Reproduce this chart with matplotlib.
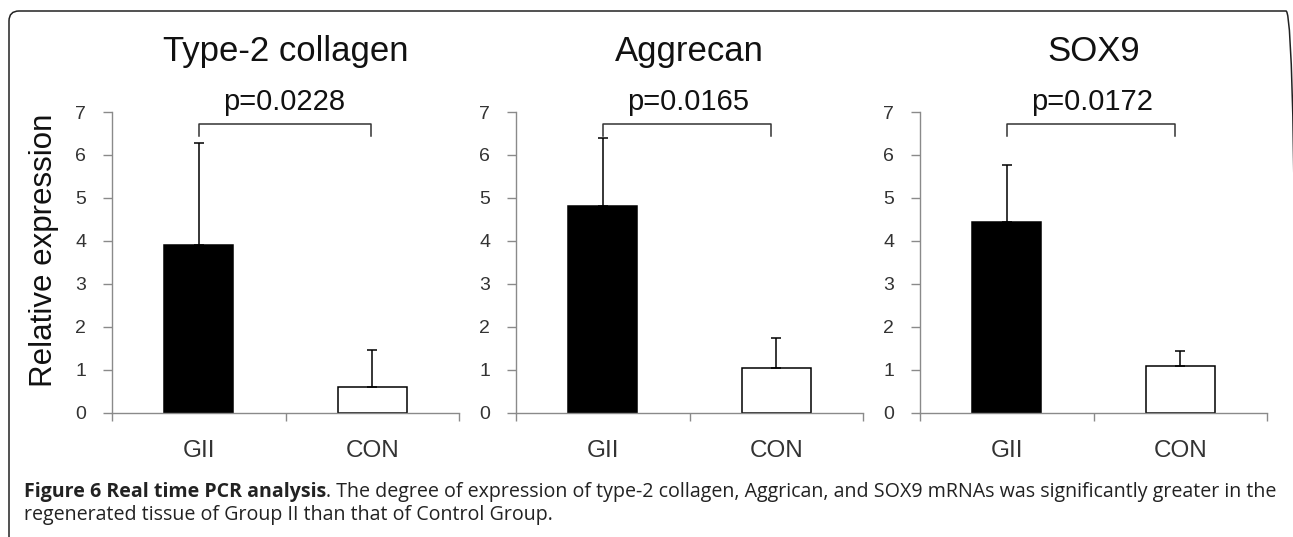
import matplotlib
matplotlib.use("Agg")
import matplotlib.pyplot as plt
from matplotlib.patches import FancyBboxPatch
from matplotlib.transforms import IdentityTransform

# data
groups = ["GII", "CON"]
genes = ["Type-2 collagen", "Aggrecan", "SOX9"]
means = {
    "Type-2 collagen": [3.90, 0.59],
    "Aggrecan": [4.82, 1.03],
    "SOX9": [4.44, 1.08],
}
errs = {
    "Type-2 collagen": [2.37, 0.87],
    "Aggrecan": [1.57, 0.70],
    "SOX9": [1.32, 0.36],
}
pvals = {"Type-2 collagen": "p=0.0228", "Aggrecan": "p=0.0165", "SOX9": "p=0.0172"}
bracket_end = {"Type-2 collagen": 0.99, "Aggrecan": 0.97, "SOX9": 0.97}

caption_bold = "Figure 6 Real time PCR analysis"
caption_rest = (". The degree of expression of type-2 collagen, Aggrican, and SOX9 mRNAs "
                "was significantly greater in the")
caption_line2 = "regenerated tissue of Group II than that of Control Group."

plt.rcParams['font.family'] = ['Liberation Sans', 'DejaVu Sans']

W, H = 1293, 537
fig = plt.figure(figsize=(W / 100, H / 100), dpi=100)

lefts = [112, 516, 920]
ax_w = 347
ax_bottom = 412.5
ax_h = 300.5
axis_gray = "#8a8a8a"
text_gray = "#333333"

axes = []
for i, gene in enumerate(genes):
    ax = fig.add_axes([lefts[i] / W, 1 - ax_bottom / H, ax_w / W, ax_h / H])
    axes.append(ax)
    x = [0, 1]
    ax.bar(x, means[gene], width=0.4, color=["black", "white"],
           edgecolor="black", linewidth=1.1, zorder=2)
    ax.errorbar(x, means[gene], yerr=[[0, 0], errs[gene]], fmt="none",
                ecolor="black", elinewidth=1.1, capsize=3.6, capthick=1.1, zorder=3)

    ax.set_xlim(-0.5, 1.5)
    ax.set_ylim(0, 7)
    ax.set_yticks(range(8))
    ax.set_xticks([-0.5, 0.5, 1.5])
    ax.set_xticklabels([])
    ax.set_xticks(x, groups, minor=True)

    for s in ["top", "right"]:
        ax.spines[s].set_visible(False)
    for s in ["left", "bottom"]:
        ax.spines[s].set_color(axis_gray)
        ax.spines[s].set_linewidth(1.0)

    ax.tick_params(axis="y", which="major", direction="out", length=6.5, width=1.0,
                   color=axis_gray, pad=12, labelsize=14, labelcolor=text_gray)
    ax.tick_params(axis="x", which="major", direction="out", length=6, width=1.0,
                   color=axis_gray)
    ax.tick_params(axis="x", which="minor", length=0, pad=20, labelsize=17.5,
                   labelcolor=text_gray)

    # significance bracket
    xe = bracket_end[gene]
    ax.plot([0, 0, xe, xe], [6.45, 6.71, 6.71, 6.45], color="#333333",
            lw=1.1, clip_on=False, zorder=4)
    ax.text(0.49, 7.05, pvals[gene], ha="center", va="baseline", fontsize=21,
            color="#111111", clip_on=False)

    ax.annotate(gene, xy=(0.5, 1), xycoords="axes fraction", xytext=(0, 37),
                textcoords="offset points", ha="center", va="baseline",
                fontsize=25, color="#111111")

fig.text(44 / W, 1 - 250 / H, "Relative expression", rotation=90,
         ha="center", va="center", fontsize=22.5, color="#111111")

# frame around figure
frame = FancyBboxPatch((9, -30), 1287, H - 11 + 30,
                       boxstyle="round,pad=0,rounding_size=10",
                       transform=IdentityTransform(), fill=False,
                       edgecolor="#222222", linewidth=1.1)
fig.patches.append(frame)

# caption, sized so the first line spans the panel width
renderer = fig.canvas.get_renderer()
cap_x = 24
target = 1279 - cap_x
fs = 12.0
cap_font = ['Open Sans', 'DejaVu Sans']
for _ in range(3):
    tb = fig.text(0, 0, caption_bold, fontsize=fs, fontweight="bold", family=cap_font)
    tr = fig.text(0, 0, caption_rest, fontsize=fs, family=cap_font)
    wid = tb.get_window_extent(renderer).width + tr.get_window_extent(renderer).width
    tb.remove()
    tr.remove()
    fs = fs * target / wid

y1 = 1 - 497 / H
y2 = 1 - 520 / H
tb = fig.text(cap_x / W, y1, caption_bold, fontsize=fs, fontweight="bold",
              family=cap_font, color="#222222", va="baseline")
bw = tb.get_window_extent(renderer).width
fig.text((cap_x + bw) / W, y1, caption_rest, fontsize=fs, family=cap_font,
         color="#222222", va="baseline")
fig.text(cap_x / W, y2, caption_line2, fontsize=fs, family=cap_font,
         color="#222222", va="baseline")

fig.savefig("out.png", dpi=100)
